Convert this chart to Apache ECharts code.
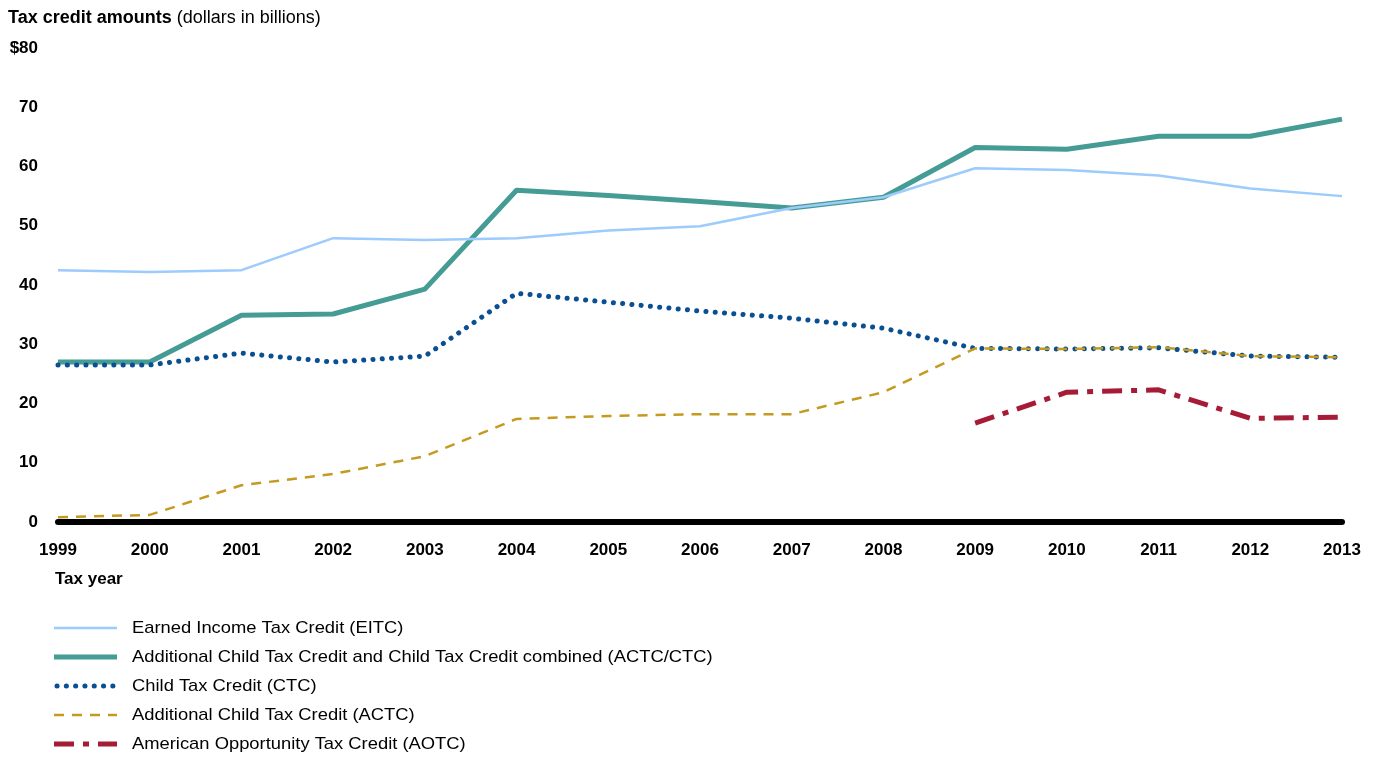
<!DOCTYPE html>
<html>
<head>
<meta charset="utf-8">
<script src="https://cdn.jsdelivr.net/npm/echarts@6/dist/echarts.min.js"></script>
<style>html,body{margin:0;padding:0;background:#fff}#c{width:1375px;height:757px}</style>
</head>
<body>
<div id="c"></div>
<script>
const years = ['1999','2000','2001','2002','2003','2004','2005','2006','2007','2008','2009','2010','2011','2012','2013'];
const yTicks = [0,10,20,30,40,50,60,70,80];
const eitc = [42.5,42.2,42.5,47.9,47.6,47.9,49.2,49.9,53.0,54.8,59.7,59.4,58.5,56.3,55.0];
const actcCtc = [27.0,27.0,34.9,35.1,39.3,56.0,55.1,54.1,53.0,54.8,63.2,62.9,65.1,65.1,68.0];
const ctc = [26.5,26.5,28.5,27.0,28.0,38.6,37.1,35.6,34.4,32.7,29.3,29.2,29.4,28.0,27.8];
const actc = [0.8,1.2,6.2,8.1,11.1,17.4,17.9,18.2,18.2,21.9,29.3,29.2,29.5,28.0,27.8];
const aotc = [null,null,null,null,null,null,null,null,null,null,16.7,21.9,22.3,17.5,17.7];
const names = ['Earned Income Tax Credit (EITC)','Additional Child Tax Credit and Child Tax Credit combined (ACTC/CTC)','Child Tax Credit (CTC)','Additional Child Tax Credit (ACTC)','American Opportunity Tax Credit (AOTC)'];

const font = 'Arial, "Liberation Sans", sans-serif';
const styles = [
  {color:'#9dcbfb', width:2.5, dash:null, cap:'butt'},
  {color:'#459c94', width:5, dash:null, cap:'butt'},
  {color:'#0a4f91', width:5, dash:[0.1, 9.2], cap:'round'},
  {color:'#c49a20', width:2.5, dash:[10, 8], cap:'butt'},
  {color:'#a61c37', width:5, dash:[20, 9, 6, 9], cap:'butt'}
];
const chart = echarts.init(document.getElementById('c'), null, {renderer:'canvas'});
function line(i, data, z){
  const s = styles[i];
  return {name:names[i], type:'line', data, showSymbol:false, symbol:'none', z:z,
    lineStyle:{color:s.color, width:s.width, type:s.dash||'solid', cap:s.cap, join:'round'}, itemStyle:{color:s.color}};
}
const legendGraphics = [];
names.forEach((n,i)=>{
  const s = styles[i];
  const y = 628 + i*29;
  legendGraphics.push({type:'line', shape:{x1:i===2?57:54, y1:y, x2:117, y2:y},
    style:{stroke:s.color, lineWidth:s.width, lineDash:s.dash||null, lineCap:s.cap}});
  legendGraphics.push({type:'text', x:132, y:y, scaleX:1.08,
    style:{text:n, font:'17px '+font, fill:'#000', textVerticalAlign:'middle', verticalAlign:'middle'}});
});
chart.setOption({
  animation:false,
  textStyle:{fontFamily:font},
  title:{left:8, top:9, padding:0, text:'{b|Tax credit amounts} {n|(dollars in billions)}',
    textStyle:{rich:{b:{fontWeight:'bold',fontSize:18,color:'#000',fontFamily:font},n:{fontWeight:'normal',fontSize:18,color:'#000',fontFamily:font}}}},
  grid:{left:58, right:33, top:48, bottom:235, containLabel:false},
  xAxis:{type:'category', data:years, boundaryGap:false,
    axisLine:{lineStyle:{color:'#000', width:6}}, axisTick:{show:false},
    axisLabel:{color:'#000', fontWeight:'bold', fontSize:17, margin:20, fontFamily:font, interval:0}},
  yAxis:{type:'value', min:0, max:80, interval:10, splitLine:{show:false}, axisLine:{show:false}, axisTick:{show:false},
    axisLabel:{color:'#000', fontWeight:'bold', fontSize:17, margin:20, fontFamily:font,
      formatter:v=> v===80 ? '$'+yTicks[8] : String(v)}},
  graphic:[{type:'text', left:55, top:571, style:{text:'Tax year', font:'bold 17px '+font, fill:'#000'}}].concat(legendGraphics),
  series:[
    line(0, eitc, 3),
    line(1, actcCtc, 2),
    line(2, ctc, 4),
    line(3, actc, 5),
    line(4, aotc, 6)
  ]
});
</script>
</body>
</html>
